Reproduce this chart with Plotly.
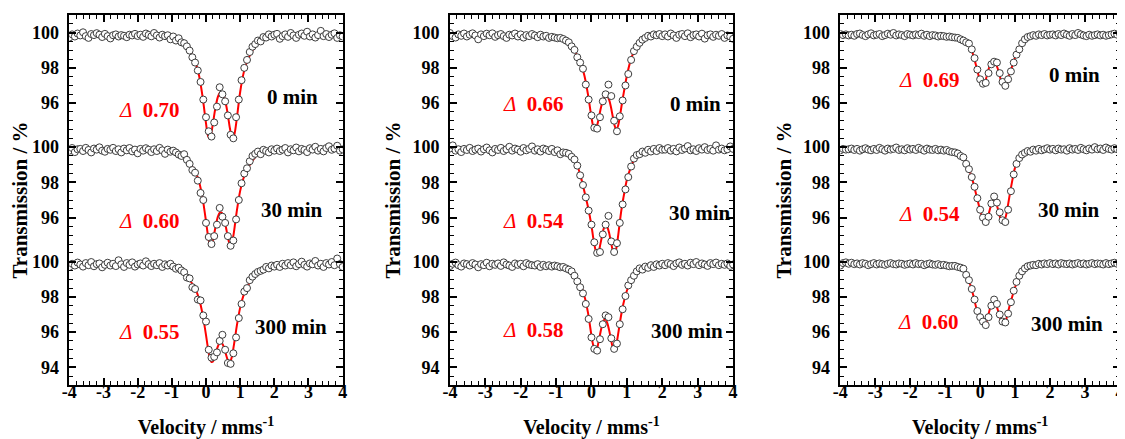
import numpy as np
import plotly.graph_objects as go

# ---------------- data ----------------
TIMES = ["0 min", "30 min", "300 min"]
DELTAS = [["0.70", "0.60", "0.55"],
          ["0.66", "0.54", "0.58"],
          ["0.69", "0.54", "0.60"]]

X_TICKS = [-4, -3, -2, -1, 0, 1, 2, 3, 4]
X_TICK_LABELS = ["-4", "-3", "-2", "-1", "0", "1", "2", "3", "4"]
Y_TICK_LABELS = ["100", "98", "96", "100", "98", "96", "100", "98", "96", "94"]

# velocity grid of the fitted curves (mm/s)
FIT_V = [-4.0, -1.5, -1.0, -0.8, -0.6, -0.45, -0.3, -0.2, -0.1, 0.0, 0.05, 0.1, 0.15, 0.2,
         0.25, 0.3, 0.35, 0.4, 0.45, 0.5, 0.55, 0.6, 0.65, 0.7, 0.75, 0.8, 0.85, 0.9,
         1.0, 1.1, 1.2, 1.35, 1.5, 1.7, 2.0, 4.0]

# ---- panel 1 ----
P1_0_PTS = [99.72, 99.90, 99.78, 99.95, 99.84, 100.02, 99.80, 99.70, 99.92, 99.86, 99.97, 99.88, 99.75, 99.93, 99.80, 99.67, 99.85, 99.90, 99.78, 99.86, 99.82, 99.74, 99.88, 99.84, 99.93, 99.81, 99.88, 99.76, 99.95, 99.87, 99.79, 99.98, 99.84, 99.72, 99.88, 99.80, 99.85, 99.62, 99.78, 99.55, 99.68,
            99.45, 99.40, 99.22, 98.98, 98.60, 98.30, 97.85, 97.20, 96.20, 95.20, 94.40, 94.10, 94.90, 95.80, 96.90, 96.50, 96.10, 95.30, 94.20, 94.00, 95.20, 96.20, 97.30, 98.00, 98.45, 98.90, 99.20, 99.35, 99.55, 99.50, 99.75, 99.72, 99.90, 99.78, 99.88,
            99.93, 99.65, 99.80, 99.90, 99.76, 99.98, 99.84, 99.70, 99.88, 99.95, 99.82, 100.05, 99.78, 99.90, 99.72, 99.86, 100.10, 99.80, 99.92, 99.75, 99.88, 99.96, 99.70, 99.85, 99.78]
P1_30_PTS = [99.80, 99.95, 99.72, 99.88, 99.90, 99.78, 99.96, 99.84, 99.70, 99.92, 99.86, 99.99, 99.80, 99.74, 99.90, 99.85, 99.96, 99.78, 99.88, 99.70, 99.92, 99.82, 99.95, 99.76, 99.86, 99.65, 99.90, 99.80, 99.94, 99.85, 99.72, 99.88, 99.78, 99.96, 99.82, 99.62, 99.86, 99.74, 99.80, 99.70, 99.58,
             99.50, 99.60, 99.28, 99.05, 98.70, 98.55, 98.10, 97.40, 97.00, 95.70, 94.90, 94.50, 94.95, 95.60, 96.55, 96.05, 95.70, 94.95, 94.40, 94.70, 95.90, 97.00, 97.95, 98.50, 98.80, 99.20, 99.50, 99.62, 99.75, 99.60, 99.85, 99.78, 99.70, 99.88, 99.80,
             99.92, 99.78, 99.86, 99.95, 99.70, 99.88, 99.82, 99.98, 99.76, 99.90, 99.84, 99.72, 99.94, 99.86, 100.02, 99.80, 99.90, 99.76, 99.95, 100.05, 99.85, 99.92, 100.08, 99.80, 99.88]
P1_300_PTS = [99.70, 99.88, 99.78, 99.95, 99.84, 99.72, 99.92, 99.80, 99.98, 99.74, 99.86, 99.90, 99.68, 99.82, 99.94, 99.78, 99.88, 99.75, 100.08, 99.85, 99.70, 99.92, 99.82, 99.96, 99.72, 99.84, 99.90, 99.78, 100.02, 99.86, 99.75, 99.88, 99.80, 99.92, 99.70, 99.85, 99.78, 99.88, 99.72, 99.60, 99.66,
              99.50, 99.40, 99.10, 99.05, 98.55, 98.45, 97.85, 97.80, 96.95, 96.60, 95.00, 94.55, 94.60, 94.85, 95.50, 95.85, 95.00, 94.25, 94.20, 94.80, 95.70, 96.80, 97.60, 98.30, 98.50, 98.95, 99.15, 99.30, 99.42, 99.48, 99.55, 99.70, 99.62, 99.78, 99.72,
              99.82, 99.70, 99.88, 99.78, 99.92, 99.80, 99.96, 99.74, 99.86, 100.00, 99.82, 99.72, 99.90, 99.85, 100.04, 99.78, 99.88, 99.70, 99.92, 99.84, 99.98, 99.80, 100.18, 99.86, 99.70]
P1_0_FIT = [99.85, 99.83, 99.77, 99.63, 99.38, 98.88, 98.25, 97.52, 96.35, 94.85, 94.21, 94.00, 94.25, 94.81, 95.44, 95.98, 96.37, 96.58, 96.63, 96.52, 96.23, 95.78, 95.19, 94.57, 94.10, 94.02, 94.41, 95.11, 96.63, 97.70, 98.36, 98.95, 99.45, 99.70, 99.81, 99.85]
P1_30_FIT = [99.85, 99.83, 99.77, 99.65, 99.42, 99.02, 98.56, 98.01, 97.11, 95.79, 95.08, 94.58, 94.45, 94.71, 95.19, 95.69, 96.07, 96.27, 96.29, 96.12, 95.77, 95.29, 94.79, 94.47, 94.52, 94.96, 95.64, 96.36, 97.52, 98.26, 98.71, 99.20, 99.55, 99.72, 99.82, 99.85]
P1_300_FIT = [99.85, 99.80, 99.68, 99.55, 99.30, 98.89, 98.40, 97.86, 97.02, 95.83, 95.18, 94.63, 94.32, 94.32, 94.56, 94.90, 95.21, 95.39, 95.41, 95.26, 94.97, 94.63, 94.35, 94.29, 94.55, 95.06, 95.69, 96.34, 97.39, 98.10, 98.56, 98.98, 99.25, 99.55, 99.74, 99.85]

# ---- panel 2 ----
P2_0_PTS = [99.98, 99.80, 99.72, 99.90, 99.82, 99.95, 99.78, 99.88, 99.96, 99.84, 99.62, 99.90, 99.80, 99.94, 99.85, 99.96, 99.76, 99.86, 99.92, 99.80, 99.70, 99.88, 99.84, 99.95, 99.78, 99.90, 99.72, 99.86, 99.80, 99.92, 99.84, 99.74, 99.88, 99.78, 99.82, 99.70, 99.76, 99.72, 99.68, 99.70, 99.64,
            99.55, 99.45, 99.22, 99.02, 98.60, 98.30, 97.95, 97.05, 96.20, 95.30, 94.60, 94.55, 95.20, 96.10, 96.50, 97.05, 96.40, 95.00, 94.40, 95.25, 96.15, 97.00, 97.65, 98.45, 98.95, 99.20, 99.42, 99.60, 99.70, 99.82, 99.78, 99.90, 99.85, 99.92, 99.80,
            99.90, 99.78, 99.95, 99.84, 99.70, 99.88, 99.92, 99.80, 99.96, 99.74, 99.86, 99.90, 99.78, 99.94, 99.66, 99.85, 99.90, 99.76, 99.88, 99.82, 99.92, 99.70, 99.84, 99.78, 99.65]
P2_30_PTS = [99.92, 100.10, 99.80, 99.88, 99.72, 99.90, 99.84, 99.96, 99.78, 99.86, 99.92, 99.75, 99.88, 99.98, 99.82, 99.70, 99.90, 99.84, 99.96, 99.78, 99.88, 100.02, 99.80, 99.92, 99.86, 99.74, 99.95, 99.82, 99.90, 100.04, 99.80, 99.88, 99.75, 99.92, 99.86, 99.78, 99.90, 99.72, 99.82, 99.60, 99.70,
             99.68, 99.62, 99.45, 99.30, 98.95, 98.40, 97.85, 97.15, 96.40, 95.60, 94.60, 94.00, 94.05, 95.05, 95.60, 96.10, 94.65, 94.05, 94.55, 95.70, 96.75, 97.60, 98.30, 98.90, 99.35, 99.55, 99.60, 99.75, 99.68, 99.85, 99.75, 99.90, 99.78, 99.95, 99.85,
             99.86, 99.95, 99.80, 99.90, 99.76, 99.98, 99.84, 99.92, 100.06, 99.82, 99.88, 99.78, 99.94, 99.86, 100.00, 99.84, 99.90, 99.80, 100.10, 99.86, 99.92, 99.82, 99.88, 100.04, 99.90]
P2_300_PTS = [99.75, 99.88, 99.95, 99.80, 99.72, 99.90, 99.86, 99.78, 99.92, 99.84, 99.68, 99.86, 99.80, 99.94, 99.74, 99.88, 99.82, 99.90, 99.76, 99.96, 99.84, 99.78, 99.70, 99.90, 99.82, 99.88, 99.74, 99.92, 99.84, 99.80, 99.78, 99.86, 99.70, 99.82, 99.74, 99.80, 99.72, 99.78, 99.74, 99.68, 99.70,
              99.62, 99.55, 99.45, 99.20, 98.88, 98.55, 98.20, 97.60, 96.75, 95.70, 95.05, 94.95, 95.60, 96.45, 96.95, 96.85, 95.65, 95.05, 95.35, 96.45, 97.30, 98.05, 98.65, 98.95, 99.20, 99.45, 99.62, 99.55, 99.72, 99.65, 99.80, 99.70, 99.85, 99.78, 99.88,
              99.80, 99.92, 99.86, 99.75, 99.90, 99.96, 99.82, 99.88, 99.78, 99.94, 99.86, 99.98, 99.80, 99.90, 99.84, 99.76, 99.92, 99.86, 99.95, 99.80, 99.88, 99.82, 99.90, 99.76, 99.84]
P2_0_FIT = [99.85, 99.82, 99.74, 99.62, 99.38, 98.88, 98.25, 97.57, 96.51, 95.19, 94.68, 94.50, 94.67, 95.08, 95.58, 96.01, 96.31, 96.44, 96.40, 96.18, 95.78, 95.25, 94.75, 94.50, 94.70, 95.20, 95.85, 96.45, 97.55, 98.38, 98.92, 99.32, 99.60, 99.76, 99.82, 99.85]
P2_30_FIT = [99.85, 99.82, 99.75, 99.64, 99.45, 99.20, 98.30, 97.48, 96.62, 95.55, 94.85, 94.29, 93.95, 94.05, 94.48, 94.98, 95.40, 95.55, 95.45, 95.12, 94.62, 94.15, 93.97, 94.25, 94.92, 95.75, 96.50, 97.10, 98.15, 98.80, 99.25, 99.55, 99.70, 99.80, 99.83, 99.85]
P2_300_FIT = [99.85, 99.82, 99.76, 99.66, 99.48, 99.05, 98.62, 98.05, 97.12, 95.80, 95.25, 95.02, 95.05, 95.45, 95.95, 96.40, 96.68, 96.72, 96.50, 96.10, 95.60, 95.15, 95.00, 95.28, 95.85, 96.50, 97.10, 97.60, 98.35, 98.85, 99.15, 99.50, 99.65, 99.75, 99.82, 99.85]

# ---- panel 3 ----
P3_0_PTS = [99.92, 99.86, 99.90, 99.84, 99.88, 99.82, 99.92, 99.95, 99.86, 99.80, 99.90, 99.96, 99.84, 99.88, 99.92, 99.80, 99.86, 99.94, 99.88, 99.98, 99.84, 99.90, 99.86, 99.80, 99.92, 99.88, 99.84, 99.90, 99.86, 99.94, 99.82, 99.88, 99.80, 99.86, 99.84, 99.78, 99.82, 99.80, 99.76, 99.78, 99.74,
            99.72, 99.70, 99.62, 99.55, 99.45, 99.38, 99.05, 98.55, 97.90, 97.35, 97.10, 97.15, 97.70, 98.20, 98.35, 98.30, 97.70, 97.20, 96.98, 97.35, 97.80, 98.30, 98.75, 99.05, 99.40, 99.62, 99.75, 99.80, 99.86, 99.82, 99.90, 99.86, 99.92, 99.84, 99.88,
            99.90, 99.84, 99.92, 99.86, 99.95, 99.88, 99.82, 99.92, 99.86, 99.98, 99.90, 99.84, 99.80, 99.88, 99.82, 99.86, 99.90, 99.84, 99.88, 99.82, 99.86, 99.90, 99.94, 99.88, 99.92]
P3_30_PTS = [99.82, 99.90, 99.86, 99.88, 99.92, 99.84, 99.90, 99.80, 99.88, 99.94, 99.86, 99.82, 99.90, 99.84, 99.96, 99.88, 99.80, 99.92, 99.86, 99.90, 99.98, 99.84, 99.88, 99.82, 99.94, 99.86, 99.90, 99.84, 99.96, 99.88, 99.80, 99.92, 99.86, 99.84, 99.90, 99.82, 99.86, 99.80, 99.84, 99.76, 99.72,
             99.70, 99.64, 99.50, 99.42, 99.05, 98.75, 98.30, 97.75, 97.10, 96.45, 96.00, 95.75, 96.05, 96.80, 97.20, 96.85, 96.30, 95.85, 95.75, 96.45, 97.50, 98.45, 99.05, 99.38, 99.58, 99.68, 99.78, 99.74, 99.86, 99.80, 99.90, 99.82, 99.88, 99.94, 99.86,
             99.90, 99.82, 99.92, 99.86, 99.88, 99.80, 99.94, 99.86, 99.90, 99.84, 99.96, 99.88, 99.82, 99.92, 99.86, 100.00, 99.88, 99.92, 99.84, 99.98, 99.90, 99.86, 99.94, 99.88, 99.82]
P3_300_PTS = [99.78, 99.92, 99.96, 99.88, 99.94, 99.86, 99.90, 99.84, 99.92, 99.88, 99.80, 99.86, 99.92, 99.84, 99.90, 99.86, 99.82, 99.88, 99.92, 99.86, 99.84, 99.90, 99.88, 99.82, 99.86, 99.90, 99.84, 99.92, 99.86, 99.88, 99.80, 99.86, 99.90, 99.84, 99.82, 99.86, 99.80, 99.82, 99.78, 99.74, 99.76,
              99.76, 99.70, 99.66, 99.60, 99.25, 98.95, 98.45, 97.85, 97.20, 96.85, 96.60, 96.40, 96.85, 97.50, 97.85, 97.60, 97.00, 96.60, 96.55, 97.05, 97.70, 98.35, 98.85, 99.20, 99.45, 99.62, 99.74, 99.78, 99.82, 99.80, 99.88, 99.84, 99.90, 99.86, 99.92,
              99.86, 99.90, 99.84, 99.92, 99.88, 99.86, 99.90, 99.84, 99.88, 99.92, 99.86, 99.90, 99.84, 99.88, 99.92, 99.86, 99.90, 99.88, 99.84, 99.92, 99.86, 99.90, 99.94, 99.88, 99.86]
P3_0_FIT = [99.85, 99.85, 99.82, 99.78, 99.68, 99.55, 99.30, 98.75, 98.00, 97.25, 97.00, 97.02, 97.25, 97.62, 97.98, 98.22, 98.32, 98.33, 98.22, 97.98, 97.62, 97.25, 97.03, 97.00, 97.15, 97.45, 97.75, 98.00, 98.60, 99.10, 99.45, 99.72, 99.80, 99.83, 99.85, 99.85]
P3_30_FIT = [99.85, 99.85, 99.80, 99.72, 99.58, 99.30, 98.65, 98.00, 97.20, 96.40, 96.05, 95.85, 95.78, 95.90, 96.25, 96.62, 96.88, 96.95, 96.85, 96.55, 96.15, 95.85, 95.76, 95.85, 96.20, 96.75, 97.35, 97.90, 98.85, 99.30, 99.55, 99.72, 99.80, 99.84, 99.85, 99.85]
P3_300_FIT = [99.88, 99.86, 99.82, 99.76, 99.70, 99.42, 98.80, 98.12, 97.30, 96.78, 96.55, 96.44, 96.45, 96.70, 97.10, 97.45, 97.62, 97.65, 97.55, 97.30, 96.95, 96.65, 96.50, 96.52, 96.75, 97.15, 97.55, 97.90, 98.55, 99.10, 99.42, 99.70, 99.80, 99.85, 99.87, 99.88]

POINTS = [[P1_0_PTS, P1_30_PTS, P1_300_PTS],
          [P2_0_PTS, P2_30_PTS, P2_300_PTS],
          [P3_0_PTS, P3_30_PTS, P3_300_PTS]]
FITS = [[P1_0_FIT, P1_30_FIT, P1_300_FIT],
        [P2_0_FIT, P2_30_FIT, P2_300_FIT],
        [P3_0_FIT, P3_30_FIT, P3_300_FIT]]

# ---------------- layout constants ----------------
# the page body has an 8 px margin, so the figure is drawn 8 px smaller
W, H = 1117, 431
PAGE_OFF = 8
OFFSETS = [0.0, 6.5, 13.0]          # vertical stacking of the spectra
FONT = "Liberation Serif, Times New Roman, Times, serif"
RED = "#ff0000"


def dom(a, b):
    return [max(0.0, (a - PAGE_OFF) / W), min(1.0, (b - PAGE_OFF) / W)]


DOMAINS = [dom(62, 338.5), dom(447, 733.5), dom(842, 1133)]
PLOT_TOP, PLOT_BOTTOM = 15 - PAGE_OFF, 385 - PAGE_OFF

# annotation positions (velocity, stacked-axis value)
DELTA_POS = [[(-1.65, 95.6), (-1.65, 89.3), (-1.65, 83.0)],
             [(-1.63, 95.95), (-1.63, 89.3), (-1.63, 83.1)],
             [(-1.44, 97.3), (-1.44, 89.7), (-1.47, 83.55)]]
TIME_POS = [[(2.54, 96.35), (2.51, 89.93), (2.48, 83.29)],
            [(2.93, 95.95), (3.07, 89.76), (2.70, 83.07)],
            [(2.71, 97.59), (2.54, 89.93), (2.49, 83.46)]]

ytickvals = []
for k, off in enumerate(OFFSETS):
    ytickvals += [100 - off, 98 - off, 96 - off]
ytickvals.append(94 - OFFSETS[2])

fig = go.Figure()
annotations = []
for p in range(3):
    xa = "x" if p == 0 else f"x{p + 1}"
    ya = "y" if p == 0 else f"y{p + 1}"
    for k in range(3):
        off = OFFSETS[k]
        fit = FITS[p][k]
        pts = POINTS[p][k]
        fig.add_trace(go.Scatter(
            x=FIT_V, y=[v - off for v in fit], mode="lines",
            line=dict(color=RED, width=2, shape="spline", smoothing=0.8),
            xaxis=xa, yaxis=ya, showlegend=False, hoverinfo="skip"))
        xs = np.linspace(-4.0, 4.0, len(pts))
        fig.add_trace(go.Scatter(
            x=xs, y=[v - off for v in pts], mode="markers",
            marker=dict(symbol="circle", size=7, color="white",
                        line=dict(color="#3c3c3c", width=1)),
            xaxis=xa, yaxis=ya, showlegend=False,
            name=f"{TIMES[k]}"))
        dx, dy = DELTA_POS[p][k]
        annotations.append(dict(
            x=dx, y=dy, xref=xa, yref=ya, showarrow=False,
            text=f"<i>Δ</i>  <b>{DELTAS[p][k]}</b>",
            font=dict(family=FONT, size=21, color=RED),
            xanchor="center", yanchor="middle"))
        tx, ty = TIME_POS[p][k]
        annotations.append(dict(
            x=tx, y=ty, xref=xa, yref=ya, showarrow=False,
            text=f"<b>{TIMES[k]}</b>",
            font=dict(family=FONT, size=21, color="black"),
            xanchor="center", yanchor="middle"))

tickfont = dict(family=FONT, size=18, color="black", weight="bold")
layout = dict(
    width=W, height=H, paper_bgcolor="white", plot_bgcolor="white",
    margin=dict(l=0, r=0, t=PLOT_TOP, b=H - PLOT_BOTTOM),
    showlegend=False, annotations=annotations,
)
for p in range(3):
    xkey = "xaxis" if p == 0 else f"xaxis{p + 1}"
    ykey = "yaxis" if p == 0 else f"yaxis{p + 1}"
    ya = "y" if p == 0 else f"y{p + 1}"
    xa = "x" if p == 0 else f"x{p + 1}"
    layout[xkey] = dict(
        domain=DOMAINS[p], anchor=ya, range=[-4, 4],
        tickmode="array", tickvals=X_TICKS, ticktext=X_TICK_LABELS,
        ticks="inside", ticklen=7, tickwidth=1.5, tickcolor="black",
        minor=dict(tickmode="linear", tick0=0, dtick=0.2, ticks="inside",
                   ticklen=4, tickwidth=1, tickcolor="black"),
        showline=True, linewidth=1.5, linecolor="black", mirror="ticks",
        showgrid=False, zeroline=False, tickfont=tickfont, ticklabelstandoff=-10,
        title=dict(text="Velocity / mms<sup>-1</sup>", standoff=20,
                   font=dict(family=FONT, size=20, color="black", weight="bold")),
    )
    layout[ykey] = dict(
        domain=[0, 1], anchor=xa, range=[80, 101],
        tickmode="array", tickvals=ytickvals, ticktext=Y_TICK_LABELS,
        ticks="inside", ticklen=7, tickwidth=1.5, tickcolor="black",
        minor=dict(tickmode="linear", tick0=0, dtick=0.5, ticks="inside",
                   ticklen=4, tickwidth=1, tickcolor="black"),
        showline=True, linewidth=1.5, linecolor="black", mirror="ticks",
        showgrid=False, zeroline=False, tickfont=tickfont, ticklabelstandoff=5,
        title=dict(text="Transmission / %", standoff=6,
                   font=dict(family=FONT, size=21, color="black", weight="bold")),
    )
fig.update_layout(**layout)
fig.write_html("out.html")
